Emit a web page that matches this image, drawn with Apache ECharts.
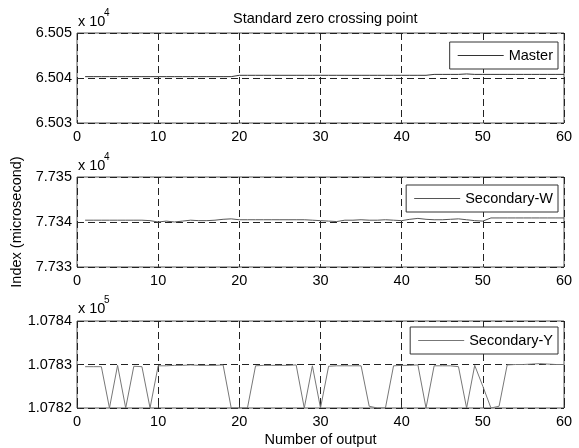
<!DOCTYPE html>
<html>
<head>
<meta charset="utf-8">
<script src="https://cdn.jsdelivr.net/npm/echarts@6/dist/echarts.min.js"></script>
<style>html,body{margin:0;padding:0;background:#fff}#c{width:579px;height:448px}</style>
</head>
<body>
<div id="c"></div>
<script>
// ---- data ----
const outputNo = [1,2,3,4,5,6,7,8,9,10,11,12,13,14,15,16,17,18,19,20,21,22,23,24,25,26,27,28,29,30,31,32,33,34,35,36,37,38,39,40,41,42,43,44,45,46,47,48,49,50,51,52,53,54,55,56,57,58,59,60];
const master = [65040.3,65040.3,65040.3,65040.3,65040.3,65040.3,65040.3,65040.3,65040.3,65040.3,65040.3,65040.3,65040.3,65040.3,65040.3,65040.3,65040.3,65040.3,65040.3,65040.6,65040.6,65040.6,65040.6,65040.6,65040.6,65040.6,65040.6,65040.6,65040.6,65040.6,65040.6,65040.6,65040.6,65040.6,65040.6,65040.6,65040.6,65040.6,65040.6,65040.6,65040.6,65040.6,65040.6,65040.8,65040.8,65040.8,65040.8,65040.9,65040.8,65040.8,65040.8,65040.8,65040.8,65040.8,65040.8,65040.8,65040.8,65040.8,65040.8,65040.8];
const secondaryW = [77340.4,77340.4,77340.4,77340.4,77340.4,77340.4,77340.4,77340.4,77340.3,77340.0,77340.2,77340.0,77340.2,77340.4,77340.3,77340.3,77340.4,77340.6,77340.7,77340.5,77340.5,77340.5,77340.5,77340.5,77340.5,77340.5,77340.5,77340.5,77340.4,77340.3,77340.2,77340.1,77340.4,77340.4,77340.5,77340.4,77340.4,77340.5,77340.4,77340.3,77340.6,77340.8,77340.6,77340.5,77340.5,77340.6,77340.7,77340.5,77340.3,77340.2,77340.9,77340.9,77340.9,77340.9,77340.9,77340.9,77340.9,77340.9,77340.9,77340.9];
const secondaryY = [107829.5,107829.5,107829.5,107820,107829.8,107820,107829.6,107829.5,107820,107829.7,107829.7,107829.8,107829.8,107829.9,107829.8,107829.8,107829.8,107829.9,107820,107820,107820,107829.7,107829.8,107829.8,107829.8,107829.8,107829.9,107820,107829.7,107820,107829.6,107829.7,107829.7,107829.7,107829.7,107820.4,107820,107820,107829.7,107829.8,107829.8,107829.9,107820,107829.7,107829.7,107829.7,107829.5,107820,107829.8,107825,107820,107820.4,107829.9,107830,107830,107830.1,107830.2,107830.1,107830,107830];
const seriesNames = ['Master','Secondary-W','Secondary-Y'];
const yRanges = [[65030,65050],[77330,77350],[107820,107840]];
const yScale = [1e4,1e4,1e5];
const yDigits = [3,3,4];
const exponents = ['4','4','5'];
const titleText = 'Standard zero crossing point';
const xName = 'Number of output';
const yName = 'Index (microsecond)';

// ---- chart ----
const FONT = 'Liberation Sans, Arial, sans-serif';
const tops = [33, 177, 321];
const heights = [90, 90, 88];
const dash = {color:'#222', width:1, type:[7,4]};
const allData = [master, secondaryW, secondaryY];
const lineColors = ['#333','#555','#777'];

const grids = [], xAxes = [], yAxes = [], series = [], legends = [], graphics = [];
for (let i = 0; i < 3; i++) {
  grids.push({left:77, right:15, top:tops[i], height:heights[i], show:true, borderColor:'#555', borderWidth:1});
  xAxes.push({
    type:'value', gridIndex:i, min:0, max:60, interval:10,
    axisLine:{show:false}, axisTick:{show:true, inside:true, length:3, lineStyle:{color:'#333'}},
    axisLabel:{fontSize:14.5, color:'#000', fontFamily:FONT, margin:6},
    splitLine:{show:true, lineStyle:dash},
    name: i===2 ? xName : '', nameLocation:'middle', nameGap:24,
    nameTextStyle:{fontSize:14.5, color:'#000', fontFamily:FONT}
  });
  const sc = yScale[i], dg = yDigits[i];
  yAxes.push({
    type:'value', gridIndex:i, min:yRanges[i][0], max:yRanges[i][1], interval:10,
    axisLine:{show:false}, axisTick:{show:true, inside:true, length:3, lineStyle:{color:'#333'}},
    axisLabel:{fontSize:14.5, color:'#000', fontFamily:FONT, margin:5, formatter:v => (v/sc).toFixed(dg)},
    splitLine:{show:true, lineStyle:dash},
    name: i===1 ? yName : '', nameLocation:'middle', nameGap:51, nameRotate:90,
    nameTextStyle:{fontSize:14.5, color:'#000', fontFamily:FONT}
  });
  series.push({
    name:seriesNames[i], type:'line', xAxisIndex:i, yAxisIndex:i,
    data: outputNo.map((x,k) => [x, allData[i][k]]),
    showSymbol:false, symbol:'none', clip:true, animation:false,
    lineStyle:{color:lineColors[i], width:1}, itemStyle:{color:lineColors[i]}
  });
  legends.push({
    data:[{name:seriesNames[i], icon:'rect'}], right:21, top:[42,185,327][i],
    itemWidth:46, itemHeight:1, itemGap:0, padding:[6,5,6,8],
    borderColor:'#333', borderWidth:1, backgroundColor:'#fff', borderRadius:0,
    itemStyle:{color:lineColors[i], borderWidth:0},
    textStyle:{fontSize:14.5, color:'#000', fontFamily:FONT}
  });
  const ey = [14, 158, 301][i];
  graphics.push({type:'text', left:78, top:ey, style:{text:'x 10', fontSize:14.5, fill:'#000', fontFamily:FONT}});
  graphics.push({type:'text', left:104, top:ey-6, style:{text:exponents[i], fontSize:10, fill:'#000', fontFamily:FONT}});
}

const chart = echarts.init(document.getElementById('c'), null, {renderer:'canvas'});
chart.setOption({
  backgroundColor:'#fff',
  animation:false,
  title:{text:titleText, left:228, top:6, textStyle:{fontSize:14.5, fontWeight:'normal', color:'#000', fontFamily:FONT}},
  grid:grids, xAxis:xAxes, yAxis:yAxes, series:series, legend:legends, graphic:graphics
});
</script>
</body>
</html>
